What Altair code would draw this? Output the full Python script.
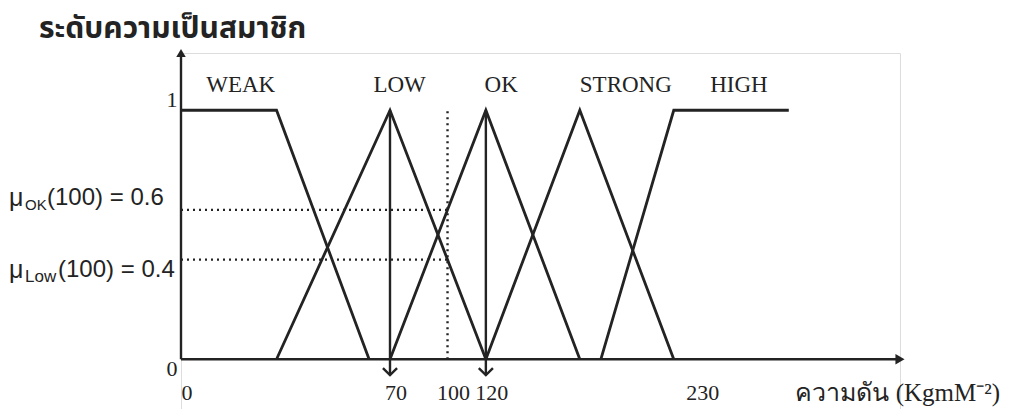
import altair as alt
import pandas as pd

# ---- data ----
set_names = ["WEAK", "LOW", "OK", "STRONG", "HIGH"]
weak_x = [0, 32, 63]
weak_y = [1, 1, 0]
low_x = [32, 70, 120]
low_y = [0, 1, 0]
ok_x = [70, 120, 169]
ok_y = [0, 1, 0]
strong_x = [120, 169, 218]
strong_y = [0, 1, 0]
high_x = [180, 218, 278]
high_y = [0, 1, 1]

label_x = [20, 75, 128, 193, 252]
label_y = [1.1, 1.1, 1.1, 1.1, 1.1]

tick_values = [0, 70, 100, 120, 230]
tick_labels = ["0", "70", "100", "120", "230"]

x_input = 100
mu_values = [0.6, 0.4]
mu_names = ["OK", "Low"]
mu_rest = ["(100) = 0.6", "(100) = 0.4"]
arrow_x = [70, 120]

x_end = 336
y_top = 1.23

INK = "#232323"

# ---- tables ----
rows = []
for name, xs_, ys_ in zip(set_names, [weak_x, low_x, ok_x, strong_x, high_x],
                          [weak_y, low_y, ok_y, strong_y, high_y]):
    for i, (a, b) in enumerate(zip(xs_, ys_)):
        rows.append({"set": name, "x": a, "y": b, "i": i})
mf = pd.DataFrame(rows)
labels_df = pd.DataFrame({"x": label_x, "y": label_y, "t": set_names})
ticks_df = pd.DataFrame({"x": tick_values, "y": [0] * len(tick_values), "t": tick_labels})

xs = alt.Scale(domain=[0, 70, x_end], range=[0, 209, 719], zero=False, nice=False)
ys = alt.Scale(domain=[-0.2, y_top], zero=False, nice=False)
X = lambda f="x": alt.X(f"{f}:Q", scale=xs, axis=None)
Y = lambda f="y": alt.Y(f"{f}:Q", scale=ys, axis=None)

lines = alt.Chart(mf).mark_line(color=INK, strokeWidth=2.8).encode(
    x=X(), y=Y(), detail="set:N", order="i:Q")

axes_df = pd.DataFrame({"x": [0, 0], "x2": [x_end, 0], "y": [0, 0], "y2": [0, y_top]})
axes = alt.Chart(axes_df).mark_rule(color=INK, strokeWidth=2.4).encode(
    x=X(), x2="x2:Q", y=Y(), y2="y2:Q")

heads_df = pd.DataFrame({"x": [x_end, 0], "y": [0, y_top], "s": ["r", "u"]})
head_r = alt.Chart(heads_df[heads_df.s == "r"]).mark_point(
    shape="triangle-right", filled=True, color=INK, size=110, opacity=1).encode(x=X(), y=Y())
head_u = alt.Chart(heads_df[heads_df.s == "u"]).mark_point(
    shape="triangle-up", filled=True, color=INK, size=90, opacity=1).encode(x=X(), y=Y())

arr_df = pd.DataFrame({"x": arrow_x, "y": [1, 1], "y2": [-0.064, -0.064]})
arr_lines = alt.Chart(arr_df).mark_rule(color=INK, strokeWidth=2.4).encode(
    x=X(), y=Y(), y2="y2:Q")
arr_heads = alt.Chart(arr_df).mark_point(
    shape="M -1 -1 L 0 0 L 1 -1", filled=False, color=INK, strokeWidth=2.4,
    size=200, opacity=1).encode(x=X(), y=Y("y2"))

dot_df = pd.DataFrame({"x": [0, 0, x_input], "x2": [x_input, x_input, x_input],
                       "y": [mu_values[0], mu_values[1], 0],
                       "y2": [mu_values[0], mu_values[1], 1]})
dots = alt.Chart(dot_df).mark_rule(color=INK, strokeWidth=2.4, strokeDash=[2, 4]).encode(
    x=X(), x2="x2:Q", y=Y(), y2="y2:Q")

set_labels = alt.Chart(labels_df).mark_text(
    font="Liberation Serif", fontSize=23, color=INK, baseline="middle").encode(
    x=X(), y=Y(), text="t:N")

tick_text = alt.Chart(ticks_df).mark_text(
    font="Liberation Serif", fontSize=22, color=INK, baseline="middle", dy=34, dx=6).encode(
    x=X(), y=Y(), text="t:N")

ylab_df = pd.DataFrame({"x": [0, 0], "y": [1, 0], "t": ["1", "0"]})
ylab1 = alt.Chart(ylab_df.iloc[[0]]).mark_text(
    font="Liberation Serif", fontSize=22, color=INK, baseline="middle", dx=-9, dy=-10).encode(
    x=X(), y=Y(), text="t:N")
ylab0 = alt.Chart(ylab_df.iloc[[1]]).mark_text(
    font="Liberation Serif", fontSize=22, color=INK, baseline="middle", dx=-9, dy=10).encode(
    x=X(), y=Y(), text="t:N")

mu_layers = []
mu_dy = [-12, 10]
sub_dx = [-156, -156]
sub_size = [15, 17]
rest_dx = [-134, -123]
for k in range(2):
    d = pd.DataFrame({"x": [0], "y": [mu_values[k]]})
    mu_layers.append(alt.Chart(d).mark_text(
        font="Liberation Sans", fontSize=25, color=INK, align="left", baseline="middle",
        dx=-172, dy=mu_dy[k]).encode(x=X(), y=Y(), text=alt.value("μ")))
    mu_layers.append(alt.Chart(d).mark_text(
        font="Liberation Sans", fontSize=sub_size[k], color=INK, align="left", baseline="middle",
        dx=sub_dx[k], dy=mu_dy[k] + 7).encode(x=X(), y=Y(), text=alt.value(mu_names[k])))
    mu_layers.append(alt.Chart(d).mark_text(
        font="Liberation Sans", fontSize=24, color=INK, align="left", baseline="middle",
        dx=rest_dx[k], dy=mu_dy[k]).encode(x=X(), y=Y(), text=alt.value(mu_rest[k])))

title_df = pd.DataFrame({"x": [0], "y": [y_top]})
title = alt.Chart(title_df).mark_text(
    font="Noto Sans Thai, Noto Sans, sans-serif", fontSize=30, fontWeight="bold", color=INK,
    align="left", baseline="middle", dx=-142, dy=-24).encode(
    x=X(), y=Y(), text=alt.value("ระดับความเป็นสมาชิก"))

xt_df = pd.DataFrame({"x": [x_end], "y": [0]})
xtitle = alt.Chart(xt_df).mark_text(
    font="Liberation Serif", fontSize=25, color=INK, align="right", baseline="middle",
    dx=100, dy=34).encode(x=X(), y=Y(), text=alt.value("ความดัน (KgmM⁻²)"))

chart = alt.layer(
    lines, axes, head_r, head_u, arr_lines, arr_heads, dots, set_labels, tick_text,
    ylab1, ylab0, *mu_layers, title, xtitle
).properties(
    width=719, height=356,
    autosize=alt.AutoSizeParams(type="none"),
    padding={"left": 181, "top": 53, "right": 111, "bottom": 0},
).configure_view(stroke=None).configure(background="white")

chart.save("out.html", embed_options={"renderer": "svg", "actions": False})
